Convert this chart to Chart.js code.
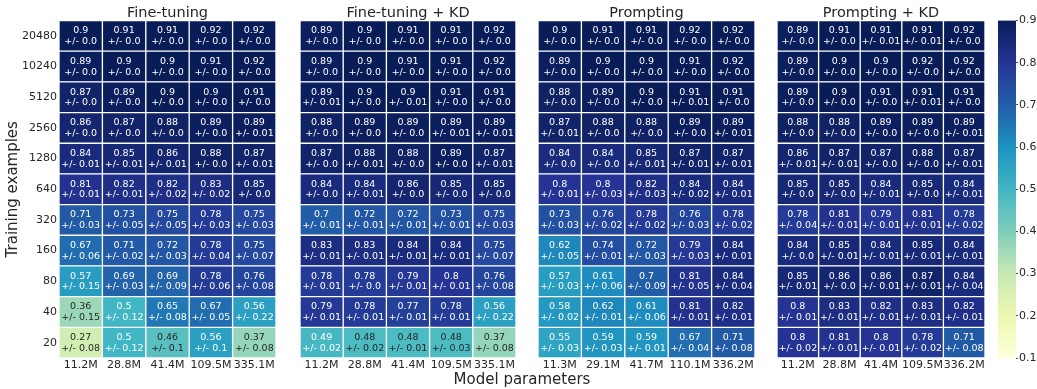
<!DOCTYPE html>
<html>
<head>
<meta charset="utf-8">
<script src="https://cdn.jsdelivr.net/npm/chart.js@4.4.1/dist/chart.umd.min.js"></script>
<style>
  body { margin: 0; background: #fff; }
  #wrap { position: relative; width: 1037px; height: 389px; overflow: hidden; font-family: "DejaVu Sans"; }
  .box { position: absolute; top: 0; }
  #xtitle { position: absolute; left: 422px; width: 200px; top: 372px; text-align: center;
            font-size: 15px; line-height: 15px; color: #262626; white-space: nowrap; }
</style>
</head>
<body>
<div id="wrap">
  <div class="box" style="left:0px"><canvas id="p0" width="284" height="389"></canvas></div>
  <div class="box" style="left:292px"><canvas id="p1" width="232" height="389"></canvas></div>
  <div class="box" style="left:530px"><canvas id="p2" width="233" height="389"></canvas></div>
  <div class="box" style="left:769px"><canvas id="p3" width="224" height="389"></canvas></div>
  <div class="box" style="left:990px"><canvas id="cb" width="47" height="389"></canvas></div>
  <div id="xtitle">Model parameters</div>
</div>
<script>
// rows top to bottom
var trainExamples = ['20480', '10240', '5120', '2560', '1280', '640', '320', '160', '80', '40', '20'];

var paramsFT = ['11.2M', '28.8M', '41.4M', '109.5M', '335.1M'];
var paramsFTKD = ['11.2M', '28.8M', '41.4M', '109.5M', '335.1M'];
var paramsPR = ['11.3M', '29.1M', '41.7M', '110.1M', '336.2M'];
var paramsPRKD = ['11.2M', '28.8M', '41.4M', '109.5M', '336.2M'];

var meanFT = [
  [0.9, 0.91, 0.91, 0.92, 0.92],
  [0.89, 0.9, 0.9, 0.91, 0.92],
  [0.87, 0.89, 0.9, 0.9, 0.91],
  [0.86, 0.87, 0.88, 0.89, 0.89],
  [0.84, 0.85, 0.86, 0.88, 0.87],
  [0.81, 0.82, 0.82, 0.83, 0.85],
  [0.71, 0.73, 0.75, 0.78, 0.75],
  [0.67, 0.71, 0.72, 0.78, 0.75],
  [0.57, 0.69, 0.69, 0.78, 0.76],
  [0.36, 0.5, 0.65, 0.67, 0.56],
  [0.27, 0.5, 0.46, 0.56, 0.37]
];
var stdFT = [
  [0, 0, 0, 0, 0],
  [0, 0, 0, 0, 0],
  [0, 0, 0, 0, 0],
  [0, 0, 0, 0, 0.01],
  [0.01, 0.01, 0.01, 0, 0.01],
  [0.01, 0.01, 0.02, 0.02, 0],
  [0.03, 0.05, 0.05, 0.03, 0.03],
  [0.06, 0.02, 0.03, 0.04, 0.07],
  [0.15, 0.03, 0.09, 0.06, 0.08],
  [0.15, 0.12, 0.08, 0.05, 0.22],
  [0.08, 0.12, 0.1, 0.1, 0.08]
];

var meanFTKD = [
  [0.89, 0.9, 0.91, 0.91, 0.92],
  [0.89, 0.9, 0.91, 0.91, 0.92],
  [0.89, 0.9, 0.9, 0.91, 0.91],
  [0.88, 0.89, 0.89, 0.89, 0.89],
  [0.87, 0.88, 0.88, 0.89, 0.87],
  [0.84, 0.84, 0.86, 0.85, 0.85],
  [0.7, 0.72, 0.72, 0.73, 0.75],
  [0.83, 0.83, 0.84, 0.84, 0.75],
  [0.78, 0.78, 0.79, 0.8, 0.76],
  [0.79, 0.78, 0.77, 0.78, 0.56],
  [0.49, 0.48, 0.48, 0.48, 0.37]
];
var stdFTKD = [
  [0, 0, 0, 0, 0],
  [0, 0, 0, 0, 0],
  [0.01, 0, 0.01, 0, 0],
  [0, 0, 0, 0.01, 0.01],
  [0, 0.01, 0, 0, 0.01],
  [0, 0.01, 0, 0, 0],
  [0.01, 0.01, 0.01, 0.01, 0.03],
  [0.01, 0.01, 0.01, 0.01, 0.07],
  [0.01, 0, 0.01, 0.01, 0.08],
  [0.01, 0.01, 0.01, 0.01, 0.22],
  [0.02, 0.02, 0.01, 0.03, 0.08]
];

var meanPR = [
  [0.9, 0.91, 0.91, 0.92, 0.92],
  [0.89, 0.9, 0.9, 0.91, 0.92],
  [0.88, 0.89, 0.9, 0.91, 0.91],
  [0.87, 0.88, 0.88, 0.89, 0.89],
  [0.84, 0.84, 0.85, 0.87, 0.87],
  [0.8, 0.8, 0.82, 0.84, 0.84],
  [0.73, 0.76, 0.78, 0.76, 0.78],
  [0.62, 0.74, 0.72, 0.79, 0.84],
  [0.57, 0.61, 0.7, 0.81, 0.84],
  [0.58, 0.62, 0.61, 0.81, 0.82],
  [0.55, 0.59, 0.59, 0.67, 0.71]
];
var stdPR = [
  [0, 0, 0, 0, 0],
  [0, 0, 0, 0, 0],
  [0, 0, 0, 0.01, 0],
  [0.01, 0, 0, 0, 0.01],
  [0, 0, 0.01, 0.01, 0.01],
  [0.01, 0.03, 0.03, 0.02, 0.01],
  [0.03, 0.02, 0.02, 0.03, 0.02],
  [0.05, 0.01, 0.03, 0.03, 0.01],
  [0.03, 0.06, 0.09, 0.05, 0.04],
  [0.02, 0.01, 0.06, 0.01, 0.01],
  [0.03, 0.03, 0.01, 0.04, 0.08]
];

var meanPRKD = [
  [0.89, 0.91, 0.91, 0.91, 0.92],
  [0.89, 0.9, 0.9, 0.92, 0.92],
  [0.89, 0.9, 0.91, 0.91, 0.91],
  [0.88, 0.88, 0.89, 0.89, 0.89],
  [0.86, 0.87, 0.87, 0.88, 0.87],
  [0.85, 0.85, 0.84, 0.85, 0.84],
  [0.78, 0.81, 0.79, 0.81, 0.78],
  [0.84, 0.85, 0.84, 0.85, 0.84],
  [0.85, 0.86, 0.86, 0.87, 0.84],
  [0.8, 0.83, 0.82, 0.83, 0.82],
  [0.8, 0.81, 0.8, 0.78, 0.71]
];
var stdPRKD = [
  [0, 0, 0.01, 0.01, 0],
  [0, 0, 0, 0, 0],
  [0, 0, 0, 0.01, 0],
  [0, 0, 0, 0, 0.01],
  [0.01, 0.01, 0, 0, 0.01],
  [0, 0, 0.01, 0, 0.01],
  [0.04, 0.01, 0.01, 0.01, 0.02],
  [0, 0.01, 0.01, 0.01, 0.01],
  [0.01, 0, 0.01, 0.01, 0.04],
  [0.01, 0.01, 0.01, 0.01, 0.01],
  [0.02, 0.01, 0.01, 0.02, 0.08]
];

var cbTicks = [0.1, 0.2, 0.3, 0.4, 0.5, 0.6, 0.7, 0.8, 0.9];

// YlGnBu, vmin 0.1 / vmax 0.9
var ylgnbu = [[255,255,217],[237,248,177],[199,233,180],[127,205,187],[65,182,196],[29,145,192],[34,94,168],[37,52,148],[8,29,88]];
var vmin = 0.1, vmax = 0.9;

function cmapRgb(v) {
  var t = Math.min(1, Math.max(0, (v - vmin) / (vmax - vmin)));
  var p = t * 8, i = Math.min(7, Math.floor(p)), f = p - i;
  var a = ylgnbu[i], b = ylgnbu[i + 1];
  return [0, 1, 2].map(function (k) { return a[k] + (b[k] - a[k]) * f; });
}
function cmap(v) {
  var c = cmapRgb(v);
  return 'rgb(' + c.map(Math.round).join(',') + ')';
}
// same rule seaborn uses for annotation colour
function textColor(v) {
  var c = cmapRgb(v).map(function (x) {
    x = x / 255;
    return x <= 0.03928 ? x / 12.92 : Math.pow((x + 0.055) / 1.055, 2.4);
  });
  var lum = 0.2126 * c[0] + 0.7152 * c[1] + 0.0722 * c[2];
  return lum > 0.408 ? '#262626' : '#ffffff';
}
function fmt(v) {
  return Number.isInteger(v) ? v.toFixed(1) : String(v);
}

Chart.defaults.font.family = '"DejaVu Sans"';
Chart.defaults.color = '#262626';

var cellText = {
  id: 'cellText',
  afterDatasetsDraw: function (chart) {
    var ctx = chart.ctx;
    ctx.save();
    ctx.font = '9.5px "DejaVu Sans"';
    ctx.textAlign = 'center';
    ctx.textBaseline = 'alphabetic';
    chart.data.datasets.forEach(function (ds, di) {
      chart.getDatasetMeta(di).data.forEach(function (bar, ci) {
        var cy = (bar.y + bar.base) / 2;
        ctx.fillStyle = textColor(ds.means[ci]);
        ctx.fillText(fmt(ds.means[ci]), bar.x, cy - 2.7);
        ctx.fillText('+/- ' + fmt(ds.stds[ci]), bar.x, cy + 8.1);
      });
    });
    ctx.restore();
  }
};

function makePanel(id, title, params, means, stds, first) {
  var datasets = [];
  // stack from the bottom row upwards
  for (var r = trainExamples.length - 1; r >= 0; r--) {
    datasets.push({
      data: means[r].map(function () { return 1; }),
      means: means[r],
      stds: stds[r],
      backgroundColor: means[r].map(cmap),
      borderColor: '#ffffff',
      borderWidth: 1,
      borderSkipped: false,
      barPercentage: 1,
      categoryPercentage: 1
    });
  }
  var rowsUp = trainExamples.slice().reverse();
  var yAxis = {
    display: first,
    stacked: true,
    min: 0,
    max: trainExamples.length,
    grid: { display: false, drawTicks: false },
    border: { display: false }
  };
  if (first) {
    yAxis.afterBuildTicks = function (axis) {
      axis.ticks = rowsUp.map(function (_, i) { return { value: i + 0.5 }; });
    };
    yAxis.ticks = {
      autoSkip: false, padding: 2, font: { size: 11 },
      callback: function (v) { return rowsUp[Math.floor(v)]; }
    };
    yAxis.title = {
      display: true, text: 'Training examples', color: '#262626',
      font: { size: 15 }, padding: { top: 4, bottom: 0 }
    };
    yAxis.afterFit = function (s) { s.width = 59; };
  }
  new Chart(document.getElementById(id), {
    type: 'bar',
    data: { labels: params, datasets: datasets },
    options: {
      responsive: false,
      animation: false,
      devicePixelRatio: 1,
      layout: { padding: { left: first ? 0 : 8, right: 8, top: 0, bottom: 0 } },
      plugins: {
        legend: { display: false },
        tooltip: { enabled: false },
        title: {
          display: true, text: title, fullSize: false, color: '#262626',
          font: { size: 14.5, weight: 'normal', lineHeight: 1 },
          padding: { top: 6, bottom: 0 }
        }
      },
      scales: {
        x: {
          stacked: true,
          grid: { display: false, drawTicks: false },
          border: { display: false },
          ticks: { font: { size: 11 }, padding: 1, maxRotation: 0, autoSkip: false },
          afterFit: function (s) { s.height = 31; }
        },
        y: yAxis
      }
    },
    plugins: [cellText]
  });
}

makePanel('p0', 'Fine-tuning', paramsFT, meanFT, stdFT, true);
makePanel('p1', 'Fine-tuning + KD', paramsFTKD, meanFTKD, stdFTKD, false);
makePanel('p2', 'Prompting', paramsPR, meanPR, stdPR, false);
makePanel('p3', 'Prompting + KD', paramsPRKD, meanPRKD, stdPRKD, false);

// colorbar
new Chart(document.getElementById('cb'), {
  type: 'bar',
  data: {
    labels: [''],
    datasets: [{
      data: [[vmin, vmax]],
      barPercentage: 1,
      categoryPercentage: 1,
      borderWidth: 0,
      backgroundColor: function (c) {
        var area = c.chart.chartArea;
        if (!area) return null;
        var g = c.chart.ctx.createLinearGradient(0, area.bottom, 0, area.top);
        ylgnbu.forEach(function (col, k) { g.addColorStop(k / 8, 'rgb(' + col.join(',') + ')'); });
        return g;
      }
    }]
  },
  options: {
    responsive: false,
    animation: false,
    devicePixelRatio: 1,
    layout: { padding: { left: 8, right: 0, top: 20.5, bottom: 31 } },
    plugins: { legend: { display: false }, tooltip: { enabled: false } },
    scales: {
      x: { display: false },
      y: {
        position: 'right',
        min: vmin,
        max: vmax,
        grid: { drawOnChartArea: false, drawTicks: true, tickLength: 2, color: '#262626', lineWidth: 0.8 },
        border: { display: false },
        afterBuildTicks: function (axis) {
          axis.ticks = cbTicks.map(function (v) { return { value: v }; });
        },
        ticks: {
          autoSkip: false, padding: 1, font: { size: 11 },
          callback: function (v) { return v.toFixed(1); }
        },
        afterFit: function (s) { s.width = 21; }
      }
    }
  }
});
</script>
</body>
</html>
